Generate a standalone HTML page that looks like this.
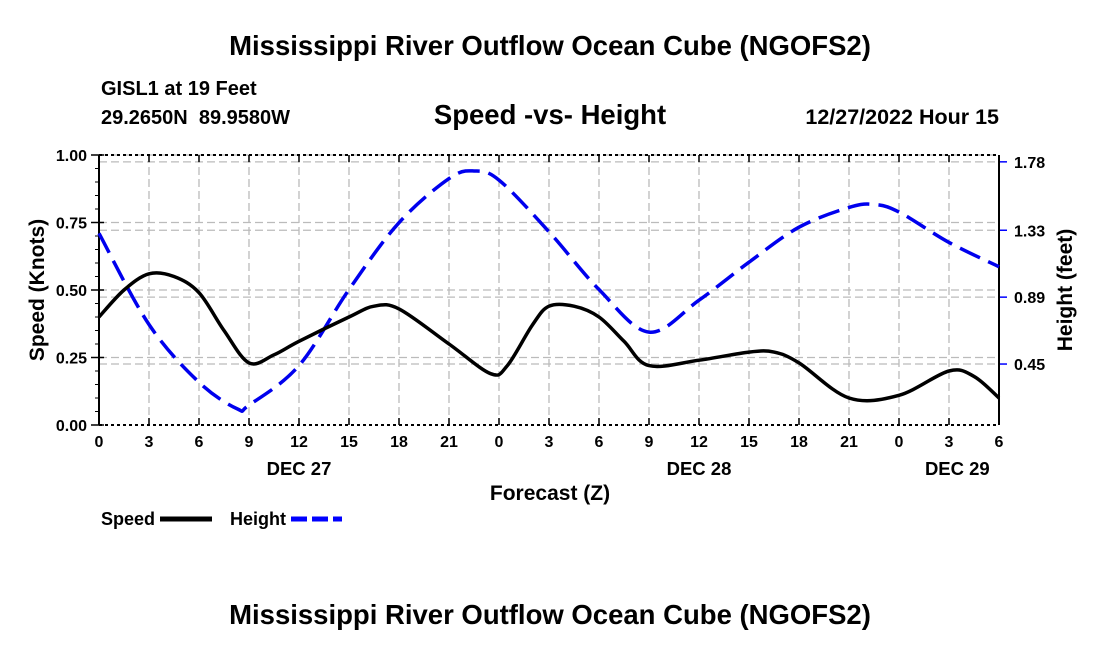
<!DOCTYPE html>
<html><head><meta charset="utf-8"><style>
body{margin:0;background:#fff;width:1100px;height:650px;overflow:hidden}
svg text{font-family:"Liberation Sans",Arial,sans-serif;font-weight:bold;fill:#000;white-space:pre}
</style></head><body>
<svg id="c" width="1100" height="650">
<text x="550" y="55" font-size="27.5" text-anchor="middle">Mississippi River Outflow Ocean Cube (NGOFS2)</text>
<text x="101" y="95" font-size="20">GISL1 at 19 Feet</text>
<text x="101" y="124" font-size="20" xml:space="preserve">29.2650N  89.9580W</text>
<text x="550" y="124" font-size="27.5" text-anchor="middle">Speed -vs- Height</text>
<text x="999" y="124" font-size="21.5" text-anchor="end">12/27/2022 Hour 15</text>
<g id="grid"></g>
<g id="axes"></g>
<g id="series"></g>
<text x="550" y="500" font-size="21" text-anchor="middle">Forecast (Z)</text>
<text transform="translate(44,290) rotate(-90)" font-size="21" text-anchor="middle">Speed (Knots)</text>
<text transform="translate(1072,290) rotate(-90)" font-size="21" text-anchor="middle">Height (feet)</text>
<g><text x="101" y="525" font-size="18">Speed</text><line x1="160" y1="519" x2="212" y2="519" stroke="#000" stroke-width="5"/></g>
<g><text x="230" y="525" font-size="18">Height</text><line x1="291" y1="519" x2="342" y2="519" stroke="#00f" stroke-width="5" stroke-dasharray="16,5"/></g>
<text x="550" y="624" font-size="27.5" text-anchor="middle">Mississippi River Outflow Ocean Cube (NGOFS2)</text>
</svg>
<script>
const xTickLabels=["0","3","6","9","12","15","18","21","0","3","6","9","12","15","18","21","0","3","6"];
const dayLabels=["DEC 27","DEC 28","DEC 29"];
const dayHours=[12,36,51.5];
const leftTicks=[0,0.25,0.5,0.75,1.0];
const rightTicks=[0.45,0.89,1.33,1.78];
const speedHours=[0,1.5,3,4.5,6,7.5,9,10.5,12,15,16.5,18,21,23.5,24.5,26,27,28.5,30,31.5,33,36,39,40.5,42,45,48,51,52.5,54];
const speedVals=[0.40,0.50,0.56,0.55,0.49,0.35,0.23,0.26,0.31,0.40,0.44,0.43,0.30,0.19,0.22,0.37,0.44,0.44,0.40,0.31,0.22,0.24,0.27,0.27,0.23,0.10,0.11,0.20,0.18,0.10];
const heightHours=[0,3,6,8.3,9,12,15,18,21,22.5,24,27,30,33,36,39,42,45,46.5,48,51,54];
const heightVals=[1.31,0.71,0.33,0.155,0.18,0.44,0.94,1.38,1.67,1.72,1.66,1.32,0.94,0.66,0.87,1.12,1.35,1.48,1.50,1.45,1.25,1.09];
const L=99,R=999,T=155,B=425,ns="http://www.w3.org/2000/svg";
const x=h=>L+(R-L)*h/54;
const yL=v=>B-(B-T)*v;
const hMin=0.049,hMax=1.825;
const yR=v=>B-(B-T)*(v-hMin)/(hMax-hMin);
function mk(p,tag,a){const e=document.createElementNS(ns,tag);for(const k in a)e.setAttribute(k,a[k]);p.appendChild(e);return e;}
const g=document.getElementById('grid'),ax=document.getElementById('axes'),s=document.getElementById('series');
const gd={stroke:"#bbb","stroke-width":1.3,"stroke-dasharray":"8,4",fill:"none"};
xTickLabels.forEach((t,i)=>{const xx=x(i*3);
 if(i>0&&i<18){const l=mk(g,'line',Object.assign({x1:xx,x2:xx,y1:T,y2:B},gd));}
 mk(ax,'line',{x1:xx,x2:xx,y1:B,y2:B-7,stroke:"#000","stroke-width":1.5});
 mk(ax,'line',{x1:xx,x2:xx,y1:T,y2:T+7,stroke:"#000","stroke-width":1.5});
 const tx=mk(ax,'text',{x:xx,y:B+22,"font-size":16,"text-anchor":"middle"});tx.textContent=t;
 });
dayLabels.forEach((d,i)=>{const tx=mk(ax,'text',{x:x(dayHours[i]),y:B+50,"font-size":18.5,"text-anchor":"middle"});tx.textContent=d;
 });
leftTicks.forEach(v=>{const yy=yL(v);
 if(v>0){const l=mk(g,'line',Object.assign({x1:L,x2:R,y1:yy,y2:yy},gd));}
 mk(ax,'line',{x1:L-8,x2:L+5,y1:yy,y2:yy,stroke:"#000","stroke-width":1.5});
 const tx=mk(ax,'text',{x:L-12,y:yy+6,"font-size":16,"text-anchor":"end"});tx.textContent=v.toFixed(2);
 });
for(let v=0.05;v<1;v+=0.05){const yy=yL(v);mk(ax,'line',{x1:L-4,x2:L,y1:yy,y2:yy,stroke:"#000","stroke-width":1});}
rightTicks.forEach(v=>{const yy=yR(v);
 const l=mk(g,'line',Object.assign({x1:L,x2:R,y1:yy,y2:yy},gd));
 mk(ax,'line',{x1:R,x2:R+8,y1:yy,y2:yy,stroke:"#00f","stroke-width":1.5});
 const tx=mk(ax,'text',{x:R+15,y:yy+6,"font-size":16});tx.textContent=v.toFixed(2);
 });
mk(ax,'line',{x1:L,x2:R,y1:T,y2:T,stroke:"#000","stroke-width":2,"stroke-dasharray":"3,3"});
mk(ax,'line',{x1:L,x2:R,y1:B,y2:B,stroke:"#000","stroke-width":2,"stroke-dasharray":"3,3"});
mk(ax,'line',{x1:L,x2:L,y1:T,y2:B,stroke:"#000","stroke-width":2});
mk(ax,'line',{x1:R,x2:R,y1:T,y2:B,stroke:"#000","stroke-width":2});
function smooth(pts){let d=`M${pts[0][0]},${pts[0][1]}`;
 for(let i=0;i<pts.length-1;i++){const p0=pts[i-1]||pts[i],p1=pts[i],p2=pts[i+1],p3=pts[i+2]||p2;
  d+=` C${p1[0]+(p2[0]-p0[0])/6},${p1[1]+(p2[1]-p0[1])/6} ${p2[0]-(p3[0]-p1[0])/6},${p2[1]-(p3[1]-p1[1])/6} ${p2[0]},${p2[1]}`;}
 return d;}
const hp=mk(s,'path',{d:smooth(heightHours.map((h,i)=>[x(h),yR(heightVals[i])])),stroke:"#0000ee","stroke-width":3.5,fill:"none","stroke-dasharray":"22,9"});

const sp=mk(s,'path',{d:smooth(speedHours.map((h,i)=>[x(h),yL(speedVals[i])])),stroke:"#000","stroke-width":3.5,fill:"none"});

</script>
</body></html>
